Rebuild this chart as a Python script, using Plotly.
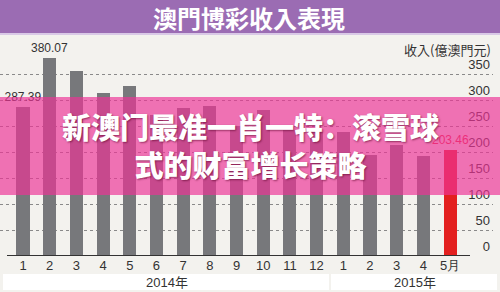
import plotly.graph_objects as go

months = ["1", "2", "3", "4", "5", "6", "7", "8", "9", "10", "11", "12", "1", "2", "3", "4", "5月"]
revenue = [287.39, 380.07, 355.0, 313.0, 327.0, 272.0, 284.0, 289.0, 250.0, 280.0, 242.0, 238.0, 238.0, 195.0, 213.0, 192.0, 203.46]
bar_labels = ["287.39", "380.07", "", "", "", "", "", "", "", "", "", "", "", "", "", "", "203.46"]
bar_colors = ["#77787b"] * 16 + ["#e3201f"]
label_colors = ["#333333"] * 16 + ["#e8283c"]
y_ticks = [0, 50, 100, 150, 200, 250, 300, 350]
years = ["2014年", "2015年"]
year_pos = [5.4, 14.7]

title = "澳門博彩收入表現"
unit_label = "收入(億澳門元)"
overlay_lines = ["新澳门最准一肖一特：滚雪球", "式的财富增长策略"]

W, H = 500, 292
L, R, T, B = 0, 7, 33, 36
PW, PH = W - L - R, H - T - B
def px(x):
    return (x - L) / PW
def py(y):
    return (H - B - y) / PH

xs = list(range(len(months)))
fig = go.Figure()
fig.add_trace(go.Bar(
    x=xs, y=revenue, width=0.49,
    marker=dict(color=bar_colors, line=dict(width=0)),
    text=bar_labels, textposition="outside", cliponaxis=False, constraintext="none",
    textfont=dict(family="Liberation Sans, Arial", size=12, color=label_colors),
    hoverinfo="skip",
))

bg = "#f3f2ee"
fig.update_layout(
    width=W, height=H, margin=dict(l=L, r=R, t=T, b=B),
    paper_bgcolor=bg, plot_bgcolor=bg, showlegend=False,
    bargap=0,
    xaxis=dict(range=[-23 / 26.69, (PW - 23) / 26.69], tickvals=xs, ticktext=months,
               showgrid=False, zeroline=False, showline=False, ticks="",
               tickfont=dict(family="Liberation Sans, Arial", size=13, color="#333333"),
               fixedrange=True),
    yaxis=dict(range=[0, PH / 0.52], tickvals=y_ticks, side="right",
               ticklabelposition="inside top", ticks="",
               showgrid=True, gridcolor="#8a8a8a", griddash="dot", gridwidth=1,
               zeroline=False, showline=False,
               tickfont=dict(family="Liberation Sans, Arial", size=13, color="#333333"),
               fixedrange=True),
)

shapes = []
# baseline
shapes.append(dict(type="line", xref="paper", yref="y", x0=px(7), x1=px(470), y0=0, y1=0,
                   line=dict(color="#333333", width=2)))
# year band
shapes.append(dict(type="rect", xref="paper", yref="paper", x0=px(3), x1=px(329), y0=py(290), y1=py(274),
                   fillcolor="#ffffff", line=dict(width=0), layer="below"))
shapes.append(dict(type="rect", xref="paper", yref="paper", x0=px(331), x1=px(497), y0=py(290), y1=py(274),
                   fillcolor="#ffffff", line=dict(width=0), layer="below"))
# title bar
shapes.append(dict(type="rect", xref="paper", yref="paper", x0=px(0), x1=px(500), y0=py(33), y1=py(0),
                   fillcolor="#9b6cb3", line=dict(width=0)))
shapes.append(dict(type="rect", xref="paper", yref="paper", x0=px(0), x1=px(500), y0=py(35), y1=py(33),
                   fillcolor="#d9c9e6", line=dict(width=0)))
# pink overlay
shapes.append(dict(type="rect", xref="paper", yref="paper", x0=px(0), x1=px(500), y0=py(195), y1=py(97),
                   fillcolor="rgba(238,52,150,0.68)", line=dict(width=0), layer="above"))
fig.update_layout(shapes=shapes)

ann = []
ann.append(dict(text=title, xref="paper", yref="paper", x=px(249), y=py(17), showarrow=False,
                font=dict(family="Noto Sans CJK TC", size=24, color="#ffffff", weight="bold"),
                xanchor="center", yanchor="middle"))
ann.append(dict(text=unit_label, xref="paper", yref="paper", x=px(493), y=py(49), showarrow=False,
                font=dict(family="Noto Sans CJK TC", size=13, color="#333333"),
                xanchor="right", yanchor="middle"))
for t, xp in zip(years, year_pos):
    ann.append(dict(text=t, xref="x", yref="paper", x=xp, y=py(282), showarrow=False,
                    font=dict(family="Liberation Sans, Noto Sans CJK TC", size=13, color="#333333"),
                    xanchor="center", yanchor="middle"))
ann.append(dict(text="<br>".join(overlay_lines), xref="paper", yref="paper", x=px(250), y=py(145),
                showarrow=False, align="center",
                font=dict(family="Noto Sans CJK SC", size=29, color="#ffffff", weight=900,
                          shadow="1px 1px 2px rgba(90,0,40,0.6)"),
                xanchor="center", yanchor="middle"))
fig.update_layout(annotations=ann)

fig.write_html("out.html")
